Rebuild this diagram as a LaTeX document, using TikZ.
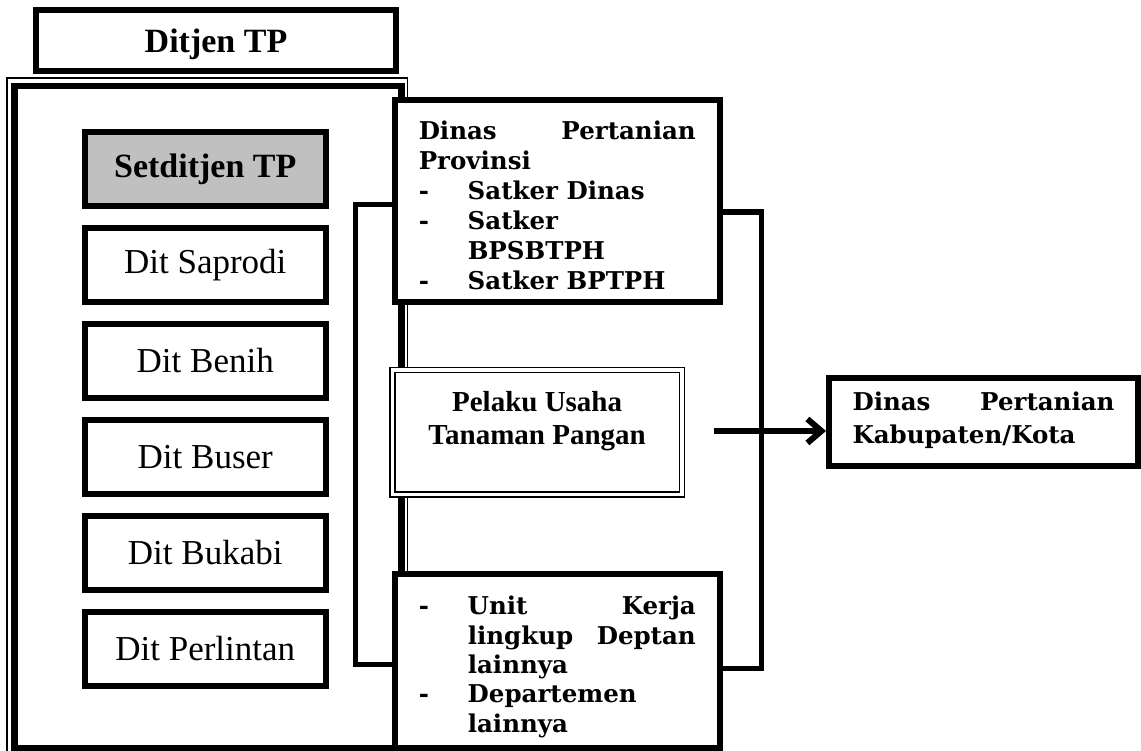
\documentclass[tikz,border=0pt]{standalone}
\usepackage{fontspec}
\setmainfont{Liberation Serif}
\newfontfamily\geo{DejaVu Serif}
\usetikzlibrary{arrows.meta}
\definecolor{silver}{RGB}{192,192,192}
\begin{document}
\begin{tikzpicture}[x=1pt,y=-1pt,
  every node/.style={outer sep=0pt, inner sep=0pt},
  box/.style={draw, line width=6pt, fill=white, anchor=north west, line join=miter},
  dirbox/.style={box, minimum width=241.5pt, minimum height=74pt, font=\fontsize{35}{40}\selectfont},
  geobox/.style={box, font=\geo\bfseries\fontsize{24.5}{30}\selectfont},
  link/.style={line width=5.5pt, line join=miter}]
\useasboundingbox (0,0) rectangle (1141,751);
% big frame (thin + thick)
\node[draw, line width=1.5pt, anchor=north west, minimum width=400.7pt, minimum height=700pt] (frameout) at (7,78) {};
\node[draw, line width=6.5pt, anchor=north west, minimum width=386.6pt, minimum height=662pt] (frame) at (14.7,86) {};
% title
\node[box, minimum width=360pt, minimum height=61pt, font=\bfseries\fontsize{34}{40}\selectfont] (ditjen) at (36,10) {\raisebox{-4pt}[\height][\depth]{Ditjen TP}};
% directorates
\node[dirbox, fill=silver, font=\bfseries\fontsize{34}{40}\selectfont] (set) at (84.5,132) {Setditjen TP};
\node[dirbox] (saprodi) at (84.5,228) {Dit Saprodi};
\node[dirbox] (benih) at (84.5,324) {Dit Benih};
\node[dirbox] (buser) at (84.5,420) {Dit Buser};
\node[dirbox] (bukabi) at (84.5,516) {Dit Bukabi};
\node[dirbox] (perlintan) at (84.5,612) {Dit Perlintan};
% right side boxes
\node[geobox, minimum width=325.5pt, minimum height=201.5pt] (prov) at (394.5,100.5)
  {\raisebox{-4pt}[\height][\depth]{\parbox{277pt}{Dinas\hfill Pertanian\\
   Provinsi\\
   \makebox[49pt][l]{-}Satker Dinas\\
   \makebox[49pt][l]{-}Satker\\
   \hspace*{49pt}BPSBTPH\\
   \makebox[49pt][l]{-}Satker BPTPH}}};
\node[draw, double, double distance=3.5pt, line width=1.5pt, fill=white, anchor=north west,
  minimum width=289.75pt, minimum height=124.5pt, font=\bfseries\fontsize{29}{33}\selectfont] (pelaku) at (392.25,370)
  {\raisebox{11pt}[\height][\depth]{\parbox{270pt}{\centering Pelaku Usaha\\Tanaman Pangan}}};
\node[geobox, minimum width=325.5pt, minimum height=174pt] (bot) at (394.5,574)
  {\raisebox{-6pt}[\height][\depth]{\parbox{277pt}{\fontsize{24.5}{29.3}\selectfont
   \makebox[49pt][l]{-}Unit\hfill Kerja\\
   \hspace*{49pt}lingkup\hfill Deptan\\
   \hspace*{49pt}lainnya\\
   \makebox[49pt][l]{-}Departemen\\
   \hspace*{49pt}lainnya}}};
\node[geobox, minimum width=309pt, minimum height=88pt] (kab) at (829,378)
  {\raisebox{2pt}[\height][\depth]{\parbox{262pt}{\fontsize{24.5}{33}\selectfont Dinas\hfill Pertanian\\Kabupaten/Kota}}};
% connectors
\coordinate (lb1) at (355.5,204.5);
\coordinate (lb2) at (355.5,664.5);
\draw[link] (prov.west |- lb1) -- (lb1) -- (lb2) -- (bot.west |- lb2);
\coordinate (rb1) at (761.5,212);
\coordinate (rb2) at (761.5,668.5);
\draw[link] (prov.east |- rb1) -- (rb1) -- (rb2) -- (bot.east |- rb2);
\coordinate (astart) at (714,431);
\path (kab.west |- astart) ++(-3,0) coordinate (atip);
\draw[line width=6pt, -{Straight Barb[length=14pt,width=24pt]}] (astart) -- (atip);
\end{tikzpicture}
\end{document}
